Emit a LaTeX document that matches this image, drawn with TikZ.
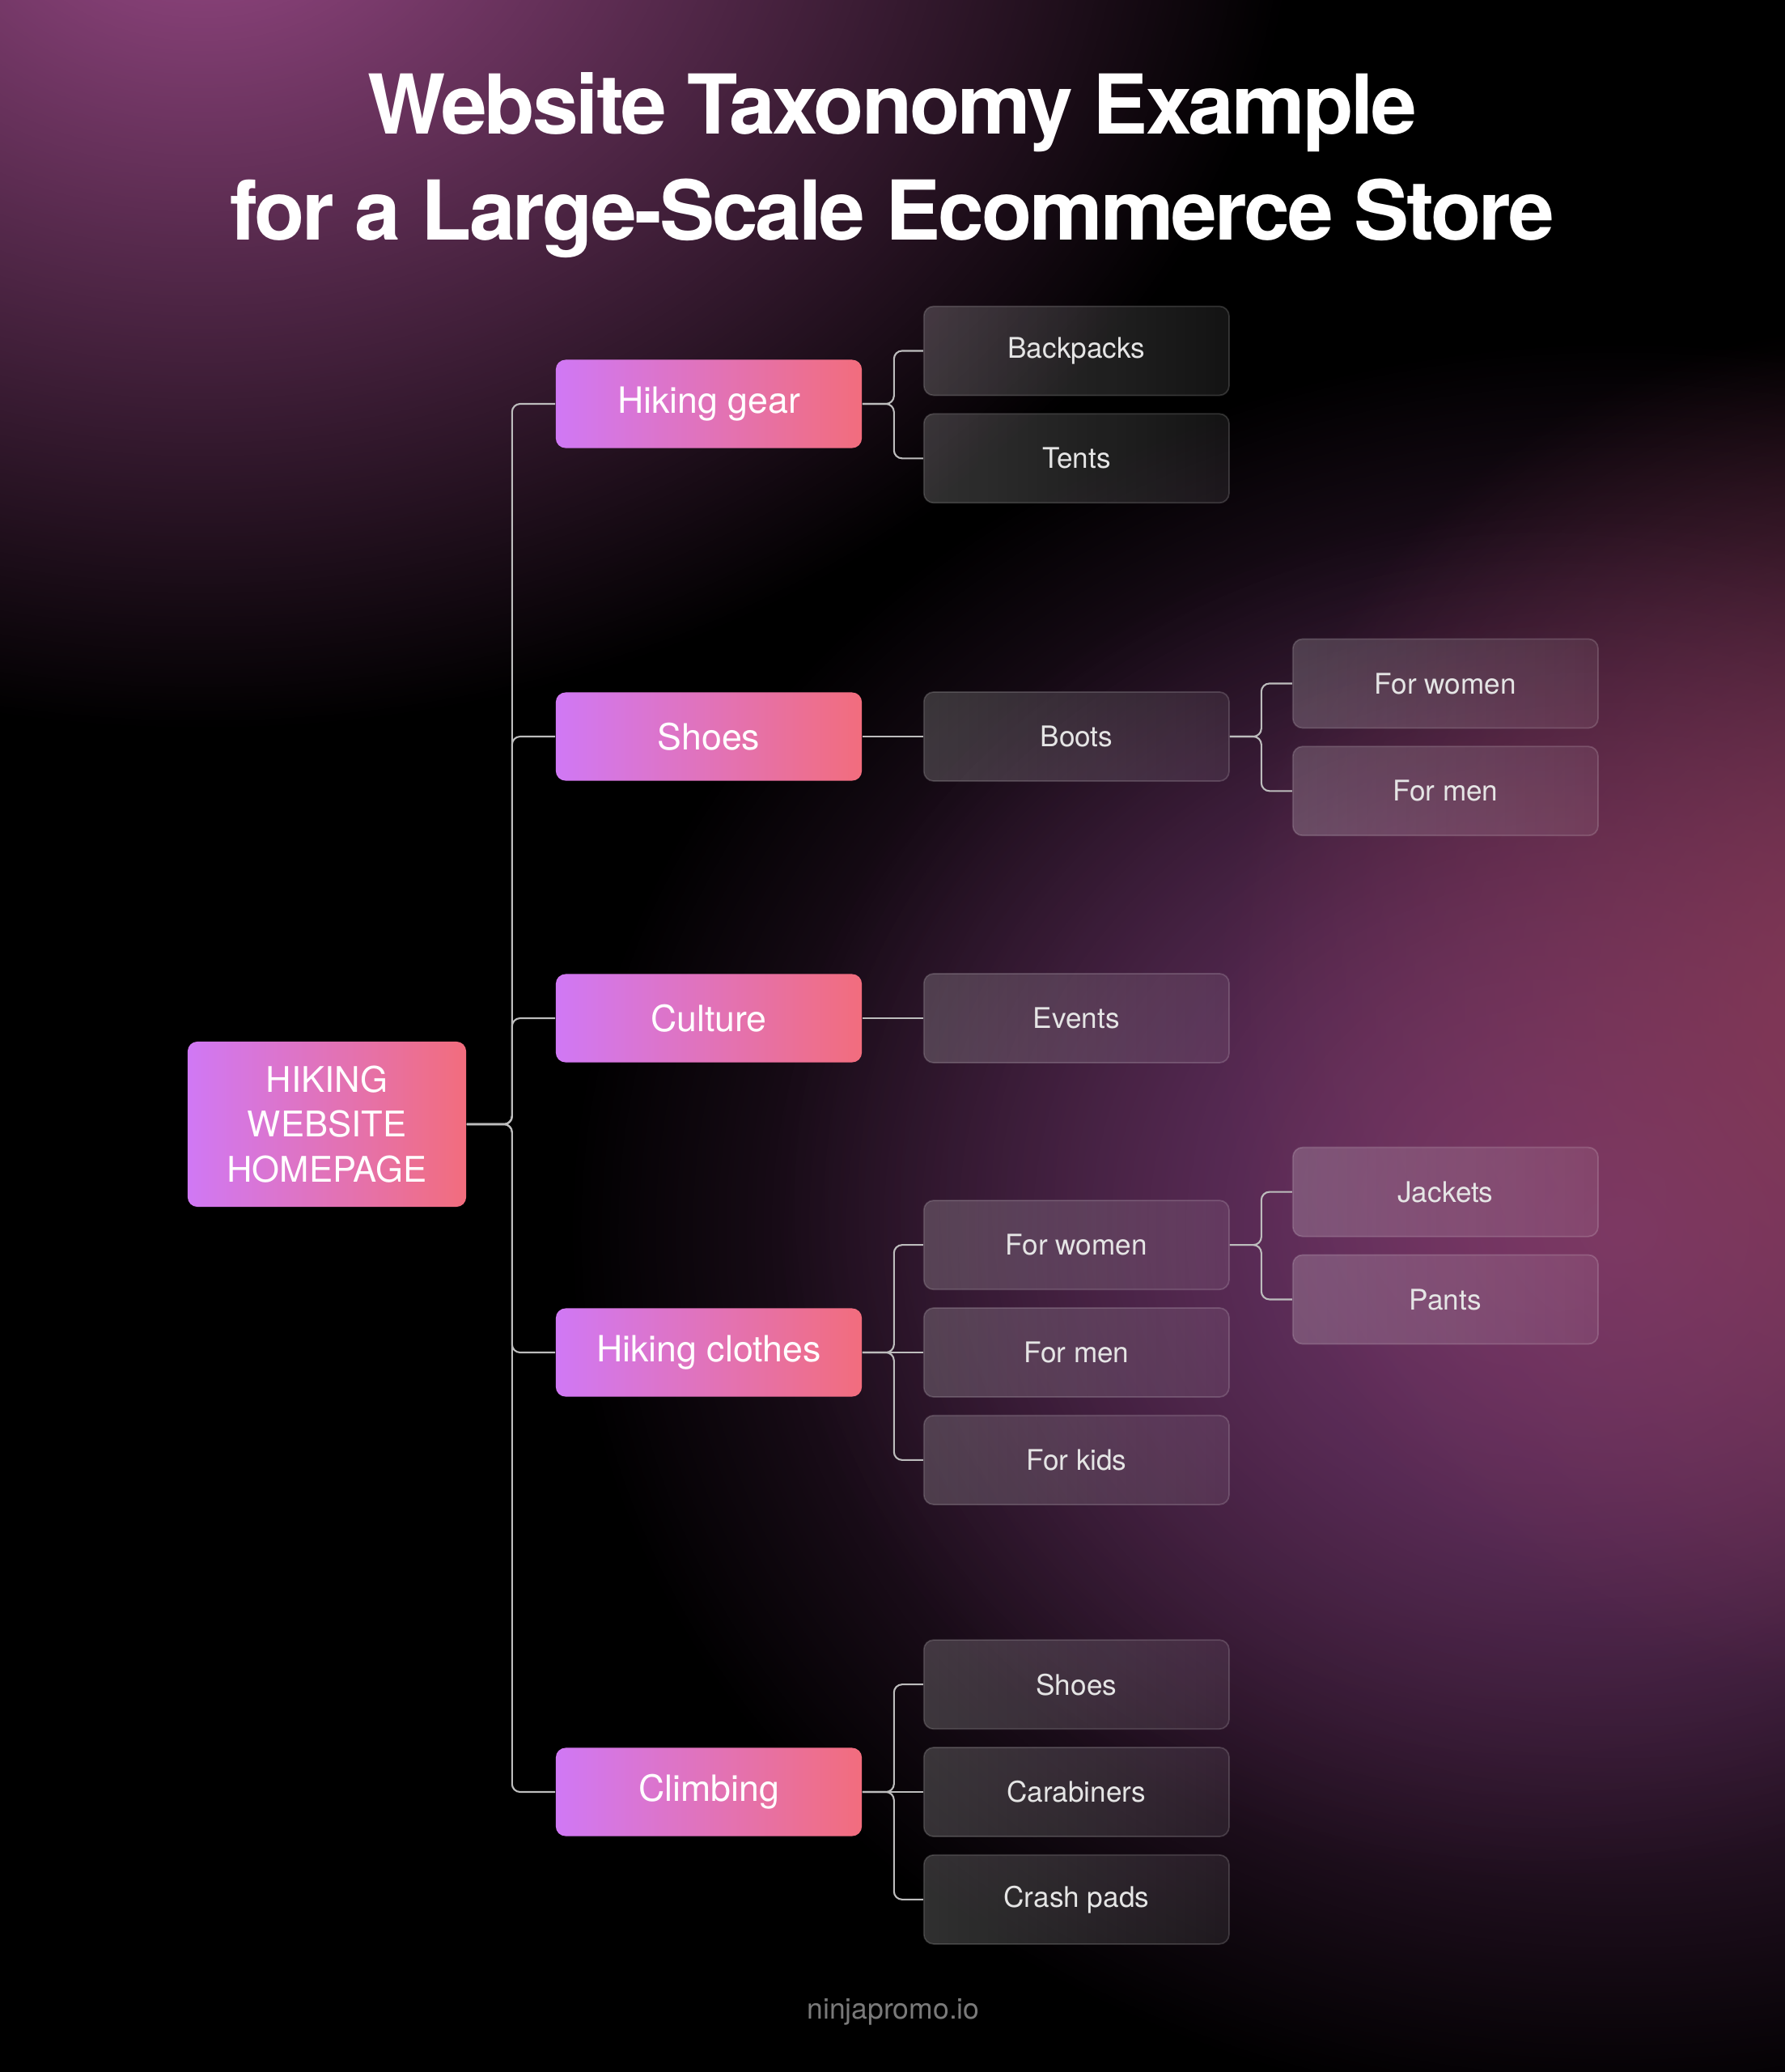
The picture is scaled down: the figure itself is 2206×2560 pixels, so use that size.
\documentclass[tikz,border=0pt]{standalone}
\usepackage{fontspec}
\setmainfont{TeX Gyre Heros}
\newfontfamily\titlefont[LetterSpace=-3]{TeX Gyre Heros}
\usetikzlibrary{positioning,fadings}

\definecolor{pinkl}{HTML}{D078F5}
\definecolor{pinkr}{HTML}{F26D7D}
\definecolor{glowtl}{HTML}{9A4A88}
\definecolor{glowmid}{HTML}{73386E}
\definecolor{glowred}{HTML}{8A3A55}
\definecolor{linkgray}{HTML}{BDBDBD}
\definecolor{footgray}{HTML}{7A7A7A}

\tikzfading[name=glowfade, inner color=transparent!0, outer color=transparent!100]

\begin{document}
\begin{tikzpicture}[x=0.01cm, y=-0.01cm,
topic/.style={rectangle, rounded corners=1.2mm, minimum width=3.78cm, minimum height=1.09cm, left color=pinkl, right color=pinkr, text=white, font=\fontsize{12.7}{15}\selectfont},
home/.style={topic, minimum width=3.44cm, minimum height=2.04cm, align=center, font=\fontsize{12.4}{15.8}\selectfont},
item/.style={rectangle, rounded corners=1.2mm, minimum width=3.77cm, minimum height=1.10cm, draw=white, draw opacity=0.16, line width=0.5pt, fill=white, fill opacity=0.08, text opacity=1, text=white!90!black, preaction={fill=white, fill opacity=0.12, path fading=east}, font=\fontsize{10}{12}\selectfont},
link/.style={draw=linkgray, line width=0.6pt, rounded corners=1mm}
]

%Background
\useasboundingbox (0,0) rectangle (2206,2560);
\fill[black] (0,0) rectangle (2206,2560);
\begin{scope}
\clip (0,0) rectangle (2206,2560);
\fill[glowtl, path fading=glowfade] (250,-150) ellipse (1350 and 1050);
\fill[glowmid, path fading=glowfade] (2000,1520) ellipse (1300 and 1100);
\fill[glowmid, path fading=glowfade, fill opacity=0.6] (1900,1480) ellipse (950 and 850);
\fill[glowred, path fading=glowfade, fill opacity=0.9] (2350,1250) ellipse (850 and 850);
\end{scope}

%Title
\node[font=\titlefont\bfseries\fontsize{29}{34}\selectfont, text=white, anchor=base] (title1) at (1103,165) {Website Taxonomy Example};
\node[font=\titlefont\bfseries\fontsize{29}{34}\selectfont, text=white, anchor=base] (title2) at (1103,296) {for a Large-Scale Ecommerce Store};

\node[home] (root) at (404,1389) {HIKING\\WEBSITE\\HOMEPAGE};
\node[topic] (hgear) at (876,499) {Hiking gear};
\node[topic] (shoes) at (876,910) {Shoes};
\node[topic] (culture) at (876,1258) {Culture};
\node[topic] (hclothes) at (876,1671) {Hiking clothes};
\node[topic] (climbing) at (876,2214) {Climbing};

%Second level
\node[item] (backpacks) [right=0.75cm of hgear, yshift=6.55mm] {Backpacks};
\node[item] (tents) [below=2.1mm of backpacks] {Tents};
\node[item] (boots) [right=0.75cm of shoes] {Boots};
\node[item] (events) [right=0.75cm of culture] {Events};
\node[item] (cmen) [right=0.75cm of hclothes] {For men};
\node[item] (cwomen) [above=2.1mm of cmen] {For women};
\node[item] (ckids) [below=2.1mm of cmen] {For kids};
\node[item] (carab) [right=0.75cm of climbing] {Carabiners};
\node[item] (cshoes) [above=2.1mm of carab] {Shoes};
\node[item] (pads) [below=2.1mm of carab] {Crash pads};

%Third level
\node[item] (bwomen) [right=0.77cm of boots, yshift=6.55mm] {For women};
\node[item] (bmen) [below=2.1mm of bwomen] {For men};
\node[item] (jackets) [right=0.77cm of cwomen, yshift=6.55mm] {Jackets};
\node[item] (pants) [below=2.1mm of jackets] {Pants};

\node[font=\fontsize{10.1}{12}\selectfont, text=footgray, anchor=base] (credit) at (1104,2494) {ninjapromo.io};

%Connections root
\foreach \t in {hgear,shoes,culture,hclothes,climbing}
  \draw[link] (root.east) -- ++(56,0) |- (\t.west);

%Connections level 2
\foreach \t in {backpacks,tents}
  \draw[link] (hgear.east) -- ++(39,0) |- (\t.west);
\draw[link] (shoes.east) -- (boots.west);
\draw[link] (culture.east) -- (events.west);
\foreach \t in {cwomen,ckids}
  \draw[link] (hclothes.east) -- ++(39,0) |- (\t.west);
\draw[link] (hclothes.east) -- (cmen.west);
\foreach \t in {cshoes,pads}
  \draw[link] (climbing.east) -- ++(39,0) |- (\t.west);
\draw[link] (climbing.east) -- (carab.west);

%Connections level 3
\foreach \t in {bwomen,bmen}
  \draw[link] (boots.east) -- ++(39,0) |- (\t.west);
\foreach \t in {jackets,pants}
  \draw[link] (cwomen.east) -- ++(39,0) |- (\t.west);
\end{tikzpicture}
\end{document}
